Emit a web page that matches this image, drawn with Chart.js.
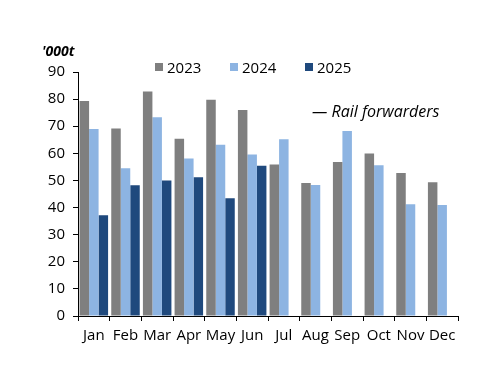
<!DOCTYPE html>
<html>
<head>
<meta charset="utf-8">
<script src="https://cdn.jsdelivr.net/npm/chart.js@4.4.1/dist/chart.umd.min.js"></script>
<style>
  html, body { margin: 0; padding: 0; background: #fff; }
  #wrap { width: 500px; height: 386px; }
</style>
</head>
<body>
<div id="wrap"><canvas id="myChart" width="500" height="386"></canvas></div>
<script>
const months = ['Jan', 'Feb', 'Mar', 'Apr', 'May', 'Jun', 'Jul', 'Aug', 'Sep', 'Oct', 'Nov', 'Dec'];
const v2023 = [79.3, 69.2, 82.8, 65.4, 79.8, 76.0, 55.9, 49.1, 56.8, 59.9, 52.7, 49.3];
const v2024 = [69.0, 54.5, 73.3, 58.1, 63.2, 59.6, 65.2, 48.3, 68.2, 55.6, 41.2, 40.9];
const v2025 = [37.2, 48.2, 50.0, 51.2, 43.4, 55.4, null, null, null, null, null, null];
const yTicks = [0, 10, 20, 30, 40, 50, 60, 70, 80, 90];

const FONT = '"Open Sans", "DejaVu Sans", sans-serif';

// testi extra: unita' e nota
const extraText = {
  id: 'extraText',
  afterDraw(chart) {
    const c = chart.ctx;
    c.save();
    c.fillStyle = '#000';
    c.textBaseline = 'alphabetic';
    c.font = 'italic bold 14px ' + FONT;
    c.fillText("'000t", 42, 56);
    c.font = 'italic 16px ' + FONT;
    c.fillText('\u2014 Rail forwarders', 312, 117);

    // legenda manuale
    const xs = [155, 230, 305];
    chart.data.datasets.forEach((ds, i) => {
      c.fillStyle = ds.backgroundColor;
      c.fillRect(xs[i], 63, 8, 8);
      c.fillStyle = '#000';
      c.font = '15px ' + FONT;
      c.fillText(ds.label, xs[i] + 12, 73);
    });
    c.restore();
  }
};

new Chart(document.getElementById('myChart'), {
  type: 'bar',
  data: {
    labels: months,
    datasets: [
      { label: '2023', data: v2023, backgroundColor: '#7f7f7f' },
      { label: '2024', data: v2024, backgroundColor: '#8db4e2' },
      { label: '2025', data: v2025, backgroundColor: '#1f497d' }
    ]
  },
  options: {
    responsive: false,
    animation: false,
    devicePixelRatio: 1,
    layout: { padding: { top: 72, right: 42, left: 0, bottom: 0 } },
    datasets: {
      bar: {
        categoryPercentage: 0.9,
        barPercentage: 1.0,
        borderWidth: 0
      }
    },
    plugins: {
      legend: { display: false },
      tooltip: { enabled: false }
    },
    scales: {
      x: {
        grid: { display: true, drawOnChartArea: false, drawTicks: true, tickLength: 5, color: '#000', offset: true },
        border: { color: '#000', width: 1 },
        ticks: { color: '#000', font: { family: FONT, size: 15 }, padding: 6, maxRotation: 0, autoSkip: false },
        afterFit: (s) => { s.height = 70; }
      },
      y: {
        min: 0,
        max: 90,
        afterBuildTicks: (s) => { s.ticks = yTicks.map(v => ({ value: v })); },
        grid: { display: true, drawOnChartArea: false, drawTicks: true, tickLength: 5, color: '#000' },
        border: { color: '#000', width: 1 },
        ticks: { color: '#000', font: { family: FONT, size: 15 }, padding: 8 },
        afterFit: (s) => { s.width = 78; }
      }
    }
  },
  plugins: [extraText]
});
</script>
</body>
</html>
